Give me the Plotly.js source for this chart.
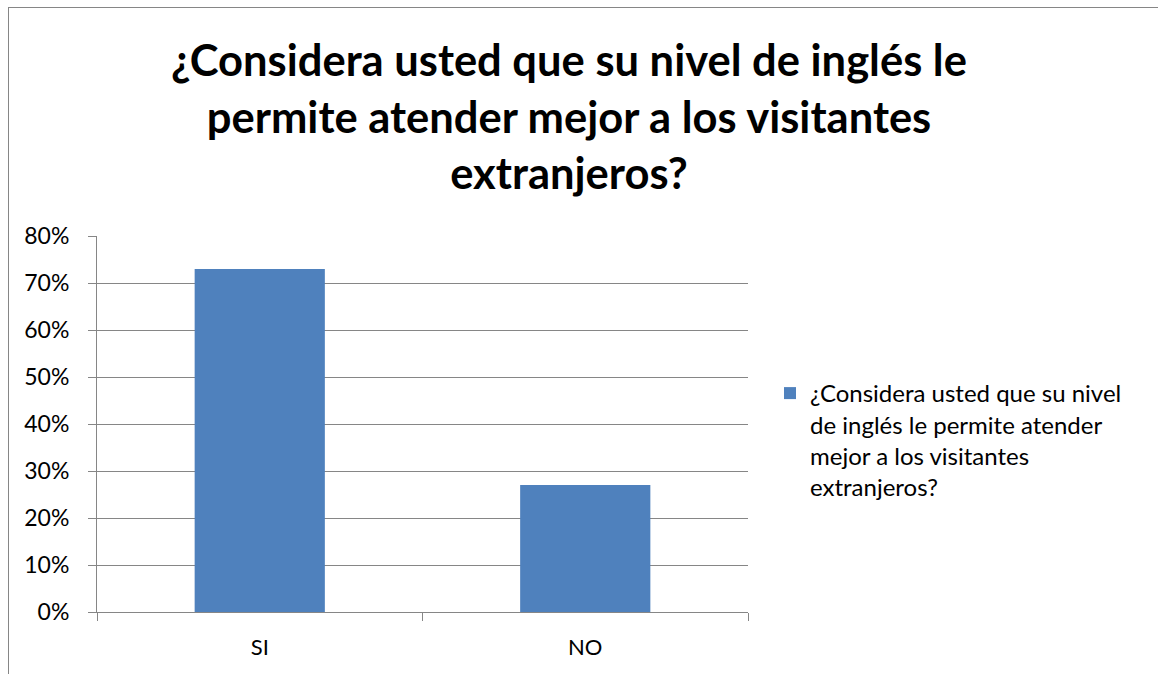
<!DOCTYPE html>
<html>
<head>
<meta charset="utf-8">
<script src="https://cdn.plot.ly/plotly-3.0.1.min.js"></script>
<style>
  html, body { margin: 0; padding: 0; background: #ffffff; }
  #wrap { position: relative; width: 1158px; height: 674px; overflow: hidden; }
  #chart { position: absolute; left: 0; top: 0; width: 1158px; height: 674px; }
  #frame { position: absolute; left: 8px; top: 7px; width: 1200px; height: 700px;
           border-left: 1px solid #868686; border-top: 1px solid #868686; pointer-events: none; }
</style>
</head>
<body>
<div id="wrap">
  <div id="chart"></div>
  <div id="frame"></div>
</div>
<script>
const categories = ["SI", "NO"];
const values = [0.73, 0.27];
const seriesName = "¿Considera usted que su nivel<br>de inglés le permite atender<br>mejor a los visitantes<br>extranjeros?";
const titleText = "¿Considera usted que su nivel de inglés le<br>permite atender mejor a los visitantes<br>extranjeros?";
const yTickVals = [0, 0.1, 0.2, 0.3, 0.4, 0.5, 0.6, 0.7, 0.8];
const yTickText = ["0%", "10%", "20%", "30%", "40%", "50%", "60%", "70%", "80%"];

const FONT = "Lato, 'Open Sans', 'DejaVu Sans', sans-serif";

const data = [{
  type: "bar",
  x: categories,
  y: values,
  name: seriesName,
  marker: { color: "#4F81BD" },
  showlegend: true,
  hoverinfo: "x+y"
}];

const layout = {
  width: 1158,
  height: 674,
  paper_bgcolor: "#ffffff",
  plot_bgcolor: "#ffffff",
  margin: { l: 97, r: 410, t: 236, b: 62, pad: 0 },
  font: { family: FONT, size: 23, color: "#000000" },
  title: {
    text: titleText,
    font: { family: FONT, size: 43.5, color: "#000000", weight: "bold" },
    x: 569 / 1158,
    xanchor: "center",
    xref: "container",
    y: 1 - 76 / 674,
    yanchor: "top",
    yref: "container"
  },
  bargap: 0.6,
  xaxis: {
    type: "category",
    showline: true,
    linecolor: "#868686",
    linewidth: 1,
    ticks: "outside",
    tickson: "boundaries",
    ticklen: 8,
    tickcolor: "#868686",
    ticklabelstandoff: 16,
    tickfont: { family: FONT, size: 22, color: "#000000" },
    showgrid: false,
    zeroline: false,
    fixedrange: true
  },
  yaxis: {
    range: [0, 0.8],
    tickvals: yTickVals,
    ticktext: yTickText,
    showline: true,
    linecolor: "#868686",
    linewidth: 1,
    ticks: "outside",
    ticklen: 8,
    tickcolor: "#868686",
    ticklabelstandoff: 14,
    tickfont: { family: FONT, size: 23, color: "#000000" },
    showgrid: true,
    gridcolor: "#868686",
    gridwidth: 1,
    zeroline: false,
    fixedrange: true
  },
  legend: {
    x: 770 / 1158,
    xref: "container",
    xanchor: "left",
    y: 1 - 440 / 674,
    yref: "container",
    yanchor: "middle",
    valign: "top",
    font: { family: FONT, size: 24, color: "#000000" },
    bgcolor: "rgba(0,0,0,0)",
    itemwidth: 30,
    tracegroupgap: 0
  }
};

Plotly.newPlot("chart", data, layout, { displayModeBar: false, staticPlot: true });
</script>
</body>
</html>
